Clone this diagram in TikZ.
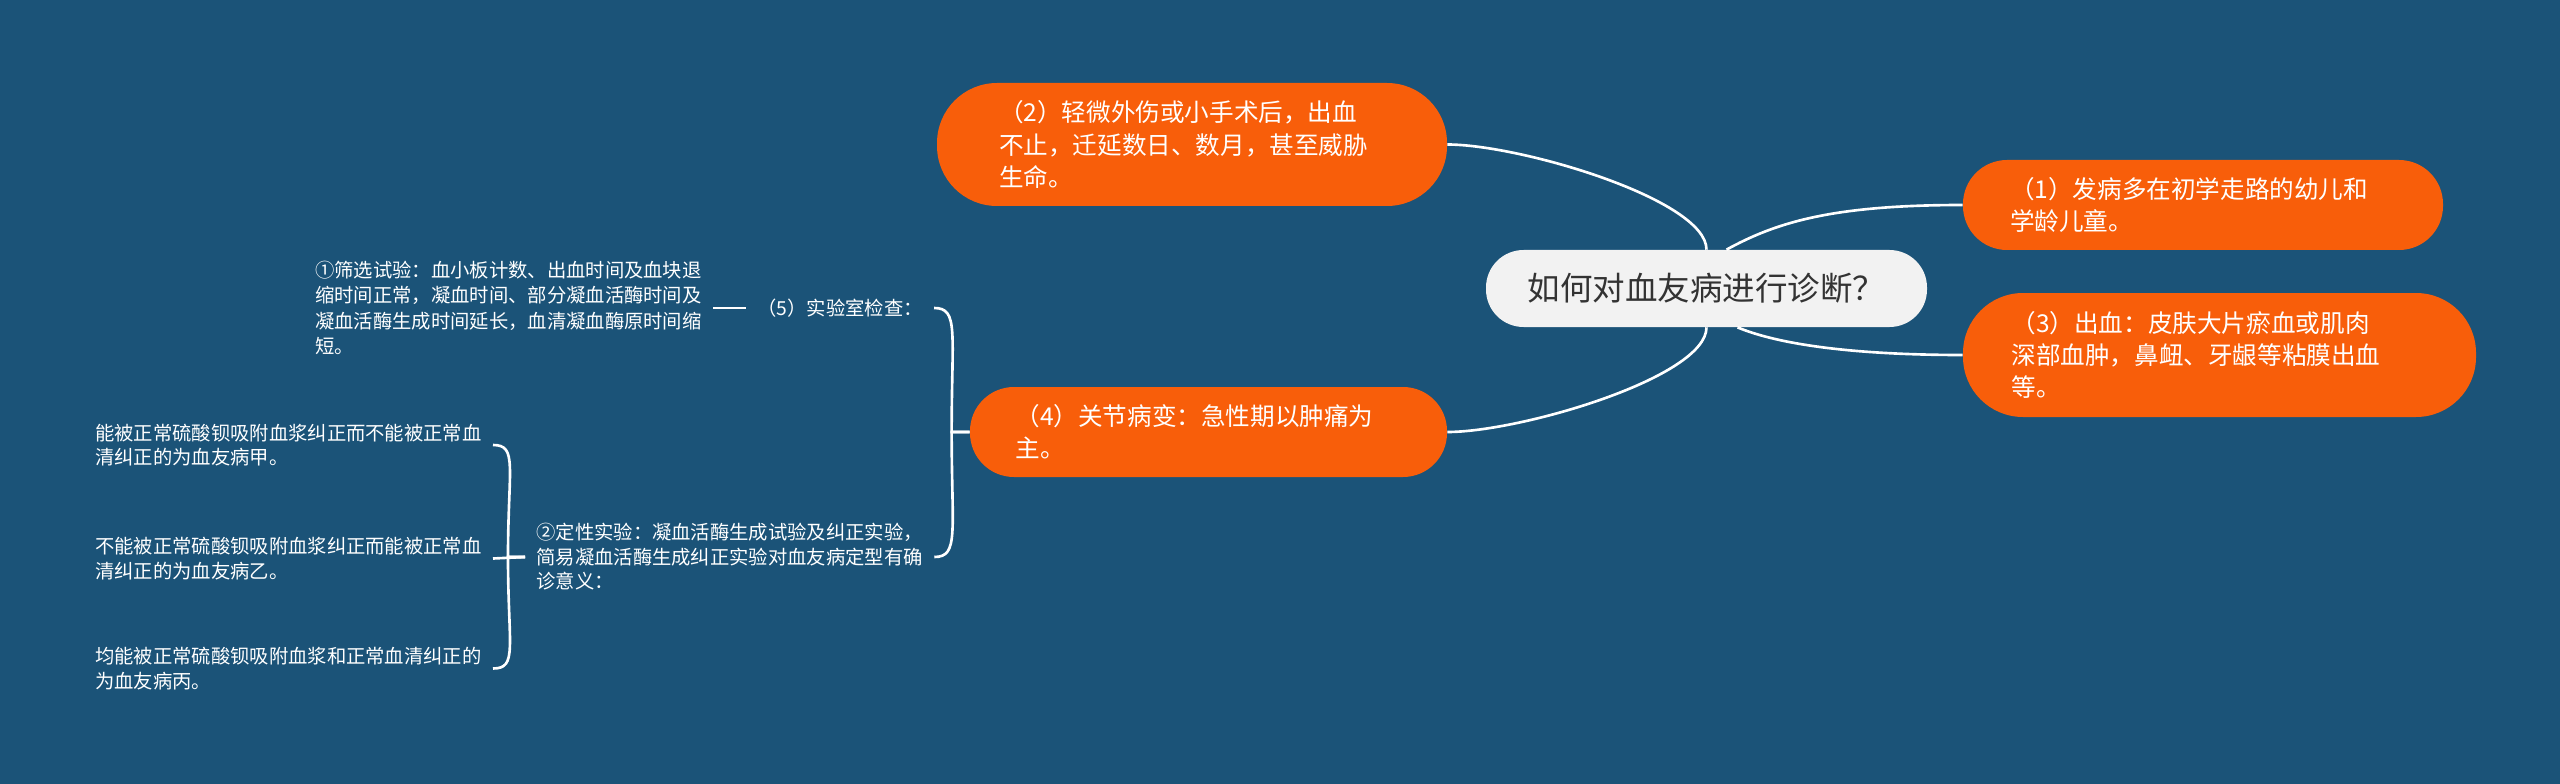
\documentclass[tikz,border=0pt]{standalone}
\usepackage{fontspec}
\newfontfamily\cjk{Noto Sans CJK SC}
\usepackage{tikz}
\usetikzlibrary{positioning}
\definecolor{bgblue}{HTML}{1B5378}
\definecolor{topicorange}{HTML}{F85E0A}
\definecolor{rootgray}{HTML}{F2F2F2}
\definecolor{roottext}{HTML}{333333}

\begin{document}
\begin{tikzpicture}
                        % R = root, T = orange topics, N/L = plain notes, J = bracket joints
                        \tikzstyle{every node}=[font=\cjk, inner sep=0pt]
                        \tikzstyle{root}=[fill=rootgray, text=roottext, rounded corners=0.75cm, minimum width=8.82cm, minimum height=1.54cm, font=\cjk\fontsize{18.5}{22}\selectfont]
                        \tikzstyle{topic}=[fill=topicorange, text=white, align=left, text width=7.72cm, font=\cjk\fontsize{14}{18.3}\selectfont]
                        \tikzstyle{note}=[text=white, align=left, inner xsep=0.22cm, inner ysep=0.1cm, font=\cjk\fontsize{11}{13.9}\selectfont]
                        \tikzstyle{link}=[white, line width=1.5pt]
                        \useasboundingbox (0,0) rectangle (51.2,-15.68);
                        \fill[bgblue] (0,0) rectangle (51.2,-15.68);

                        \node[root] (R) at (34.13,-5.77) {如何对血友病进行诊断？};
                        \node[topic, minimum width=10.2cm, minimum height=2.46cm, rounded corners=1.2cm] (T2) at (23.84,-2.89)
                                {（2）轻微外伤或小手术后，出血\\不止，迁延数日、数月，甚至威胁\\生命。};
                        \node[topic, minimum width=9.54cm, minimum height=1.8cm, rounded corners=0.88cm] (T4) at (24.17,-8.64)
                                {（4）关节病变：急性期以肿痛为\\主。};
                        \node[topic, minimum width=9.6cm, minimum height=1.8cm, rounded corners=0.88cm] (T1) at (44.06,-4.1)
                                {（1）发病多在初学走路的幼儿和\\学龄儿童。};
                        \node[topic, text width=8.32cm, minimum width=10.26cm, minimum height=2.48cm, rounded corners=1.2cm] (T3) at (44.39,-7.1)
                                {（3）出血：皮肤大片瘀血或肌肉\\深部血肿，鼻衄、牙龈等粘膜出血\\等。};

                        \node[note, anchor=east, font=\cjk\fontsize{11}{14.5}\selectfont] (N1) at (14.26,-6.16)
                                {①筛选试验：血小板计数、出血时间及血块退\\缩时间正常，凝血时间、部分凝血活酶时间及\\凝血活酶生成时间延长，血清凝血酶原时间缩\\短。};
                        \node[note, right=0.66cm of N1] (N5) {（5）实验室检查：};
                        \node[note, anchor=west] (N2) at (10.5,-11.14)
                                {②定性实验：凝血活酶生成试验及纠正实验，\\简易凝血活酶生成纠正实验对血友病定型有确\\诊意义：};
                        \node[note, anchor=east] (LA) at (9.86,-8.9)
                                {能被正常硫酸钡吸附血浆纠正而不能被正常血\\清纠正的为血友病甲。};
                        \node[note, anchor=east] (LB) at (9.86,-11.17)
                                {不能被正常硫酸钡吸附血浆纠正而能被正常血\\清纠正的为血友病乙。};
                        \node[note, anchor=east] (LC) at (9.86,-13.37)
                                {均能被正常硫酸钡吸附血浆和正常血清纠正的\\为血友病丙。};

                        \coordinate (J1) at ([xshift=-0.36cm]T4.west);
                        \coordinate (J2) at ([xshift=-0.34cm]N2.west);

                        \draw[link] (T2.east) .. controls +(1.46,0) and +(0,1.0) .. (R.north);
                        \draw[link] (T4.east) .. controls +(1.46,0) and +(0,-1.0) .. (R.south);
                        \draw[link] ([xshift=0.4cm]R.north) .. controls +(1.0,0.55) and +(-2.6,0) .. (T1.west);
                        \draw[link] ([xshift=0.62cm]R.south) .. controls +(0.86,-0.36) and +(-2.08,0) .. (T3.west);

                        \draw[link] (T4.west) -- (J1) .. controls +(0,2.0) and +(0.5,0) .. (N5.east);
                        \draw[link] (T4.west) -- (J1) .. controls +(0,-2.0) and +(0.5,0) .. (N2.east);
                        \draw[link] (N1.east) -- (N5.west);

                        \draw[link] (N2.west) -- (LB.east);
                        \draw[link] (N2.west) -- (J2) .. controls +(0,1.8) and +(0.5,0) .. (LA.east);
                        \draw[link] (N2.west) -- (J2) .. controls +(0,-1.8) and +(0.5,0) .. (LC.east);
\end{tikzpicture}
\end{document}
